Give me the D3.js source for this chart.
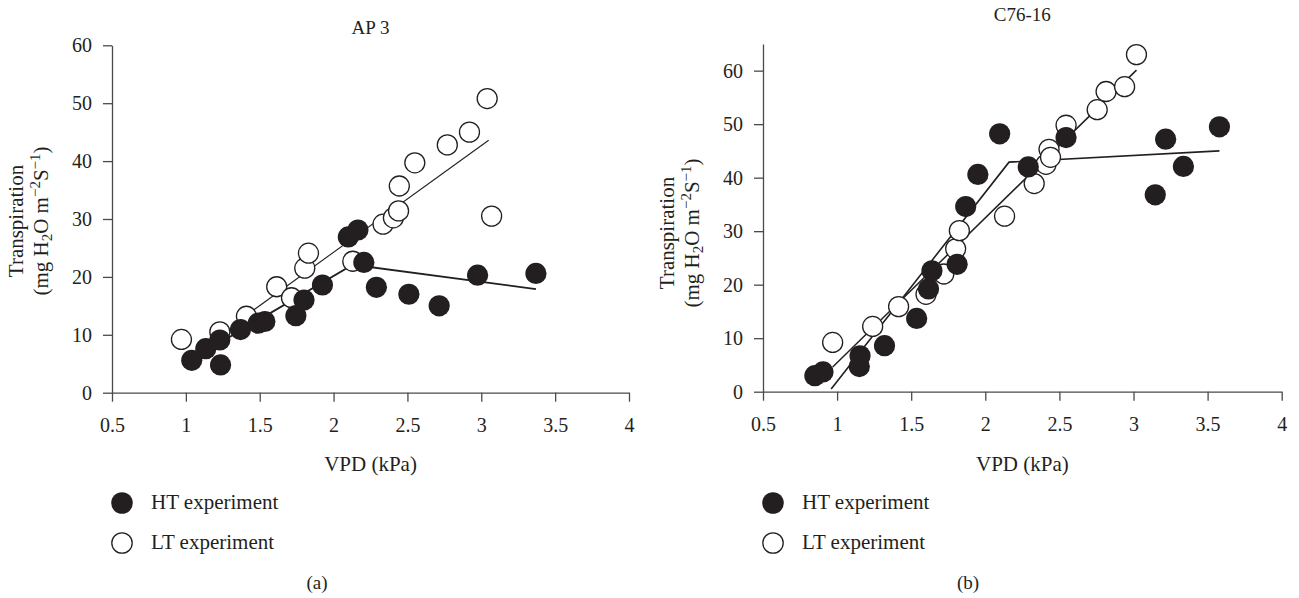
<!DOCTYPE html>
<html>
<head>
<meta charset="utf-8">
<script src="https://cdn.jsdelivr.net/npm/d3@7"></script>
<style>
  html, body { margin: 0; padding: 0; background: #fff; }
  svg { display: block; }
  svg text { font-family: "Liberation Serif", "Times New Roman", serif; }
</style>
</head>
<body>
<svg id="chart" width="1299" height="598"></svg>
<script>
// ── Data ─────────────────────────────────────────────────
// Panel (a) AP 3
var ap3HtVpd = [1.04, 1.135, 1.23, 1.235, 1.37, 1.49, 1.535, 1.745, 1.80, 1.925, 2.10, 2.165, 2.205, 2.29, 2.51, 2.715, 2.975, 3.37];
var ap3HtTr  = [5.6, 7.6, 9.1, 4.8, 10.9, 12.0, 12.3, 13.3, 16.0, 18.6, 26.9, 28.1, 22.5, 18.2, 17.0, 15.0, 20.3, 20.6];
var ap3LtVpd = [0.97, 1.23, 1.41, 1.615, 1.715, 1.805, 1.83, 2.13, 2.335, 2.405, 2.44, 2.445, 2.55, 2.77, 2.92, 3.04, 3.07];
var ap3LtTr  = [9.2, 10.5, 13.2, 18.3, 16.4, 21.5, 24.1, 22.7, 29.1, 30.2, 31.4, 35.7, 39.7, 42.8, 45.0, 50.8, 30.5];
var ap3HtFitVpd = [1.12, 2.13, 3.37];
var ap3HtFitTr  = [7.0, 22.1, 17.9];
var ap3LtFitVpd = [1.40, 3.05];
var ap3LtFitTr  = [13.2, 43.6];

// Panel (b) C76-16
var c76HtVpd = [0.85, 0.905, 1.15, 1.155, 1.32, 1.537, 1.617, 1.64, 1.81, 1.868, 1.95, 2.097, 2.29, 2.545, 3.147, 3.217, 3.337, 3.58];
var c76HtTr  = [3.0, 3.7, 4.7, 6.7, 8.6, 13.7, 19.2, 22.6, 23.8, 34.6, 40.6, 48.2, 42.0, 47.5, 36.8, 47.2, 42.1, 49.5];
var c76LtVpd = [0.97, 1.24, 1.415, 1.60, 1.72, 1.80, 1.825, 2.13, 2.33, 2.41, 2.43, 2.44, 2.545, 2.755, 2.815, 2.94, 3.02];
var c76LtTr  = [9.2, 12.2, 15.9, 18.2, 22.0, 26.7, 30.1, 32.8, 38.9, 42.5, 45.3, 43.8, 49.8, 52.7, 56.1, 57.0, 63.0];
var c76HtFitVpd = [0.96, 2.16, 3.58];
var c76HtFitTr  = [0.5, 42.9, 45.0];
var c76LtFitVpd = [0.97, 3.02];
var c76LtFitTr  = [4.6, 60.1];

var xTicks = [0.5, 1, 1.5, 2, 2.5, 3, 3.5, 4];
var yTicks = [0, 10, 20, 30, 40, 50, 60];
var legendLabels = ["HT experiment", "LT experiment"];

// ── Drawing ──────────────────────────────────────────────
var serif = "Liberation Serif, Times New Roman, serif";
var ink = "#231f20";
var axisInk = "#4a4a4a";
var svg = d3.select("#chart").attr("fill", ink);

function zip(xs, ys) {
  return xs.map(function (v, i) { return [v, ys[i]]; });
}

function drawPanel(p) {
  var g = svg.append("g");
  var x = d3.scaleLinear().domain([0.5, 4]).range([p.left, p.right]);
  var y = d3.scaleLinear().domain([0, p.yMax]).range([p.bottom, p.top]);

  // axes
  var xAxis = g.append("g")
    .attr("transform", "translate(0," + p.bottom + ")")
    .call(d3.axisBottom(x).tickValues(xTicks).tickFormat(d3.format(""))
      .tickSize(9).tickPadding(16).tickSizeOuter(0));
  var yAxis = g.append("g")
    .attr("transform", "translate(" + p.left + ",0)")
    .call(d3.axisLeft(y).tickValues(yTicks).tickFormat(d3.format(""))
      .tickSize(9).tickPadding(11).tickSizeOuter(0));
  [xAxis, yAxis].forEach(function (a) {
    a.attr("font-family", serif).attr("font-size", 20);
    a.selectAll("path, line").attr("stroke", axisInk).attr("stroke-width", 1.3);
    a.selectAll("text").attr("fill", ink);
  });

  // fitted lines
  var line = d3.line()
    .x(function (d) { return x(d[0]); })
    .y(function (d) { return y(d[1]); });
  g.append("path").datum(zip(p.ltFitX, p.ltFitY))
    .attr("d", line).attr("fill", "none").attr("stroke", ink).attr("stroke-width", p.ltW);
  g.append("path").datum(zip(p.htFitX, p.htFitY))
    .attr("d", line).attr("fill", "none").attr("stroke", ink).attr("stroke-width", p.htW);

  // points: open (LT) underneath, filled (HT) on top
  g.selectAll(".lt").data(zip(p.ltX, p.ltY)).join("circle")
    .attr("class", "lt")
    .attr("cx", function (d) { return x(d[0]); })
    .attr("cy", function (d) { return y(d[1]); })
    .attr("r", 10)
    .attr("fill", "#fff").attr("stroke", ink).attr("stroke-width", 1.3);
  g.selectAll(".ht").data(zip(p.htX, p.htY)).join("circle")
    .attr("class", "ht")
    .attr("cx", function (d) { return x(d[0]); })
    .attr("cy", function (d) { return y(d[1]); })
    .attr("r", 10.6)
    .attr("fill", ink);

  // titles and labels
  var cx = (p.left + p.right) / 2;
  g.append("text").attr("x", cx).attr("y", p.titleY)
    .attr("text-anchor", "middle").attr("font-size", 19).text(p.title);
  g.append("text").attr("x", cx).attr("y", 471)
    .attr("text-anchor", "middle").attr("font-size", 21).text("VPD (kPa)");

  var yl = g.append("g")
    .attr("transform", "translate(" + (p.left - 89) + "," + p.yLabelY + ") rotate(-90)")
    .attr("text-anchor", "middle").attr("font-size", 21);
  yl.append("text").attr("x", 0).attr("y", 0).text("Transpiration");
  var t2 = yl.append("text").attr("x", 0).attr("y", 25);
  t2.append("tspan").text("(mg H");
  t2.append("tspan").attr("dy", 4).attr("font-size", 15).text("2");
  t2.append("tspan").attr("dy", -4).text("O m");
  t2.append("tspan").attr("dy", -8).attr("font-size", 15).text("\u22122");
  t2.append("tspan").attr("dy", 8).text("S");
  t2.append("tspan").attr("dy", -8).attr("font-size", 15).text("\u22121");
  t2.append("tspan").attr("dy", 8).text(")");

  // legend
  var lx = p.left + 10;
  var lg = g.append("g").attr("font-size", 21);
  legendLabels.forEach(function (lab, i) {
    var cy = 503 + i * 40;
    lg.append("circle").attr("cx", lx).attr("cy", cy).attr("r", i === 0 ? 10.8 : 10.2)
      .attr("fill", i === 0 ? ink : "#fff")
      .attr("stroke", i === 0 ? "none" : ink).attr("stroke-width", 1.3);
    lg.append("text").attr("x", lx + 29).attr("y", cy + 6).text(lab);
  });

  g.append("text").attr("x", p.left + 205).attr("y", 589)
    .attr("text-anchor", "middle").attr("font-size", 19).text(p.tag);
}

drawPanel({
  left: 112, right: 629, top: 45.3, bottom: 392.7, yMax: 60,
  title: "AP 3", titleY: 34, yLabelY: 221, tag: "(a)",
  htX: ap3HtVpd, htY: ap3HtTr, ltX: ap3LtVpd, ltY: ap3LtTr,
  htFitX: ap3HtFitVpd, htFitY: ap3HtFitTr, ltFitX: ap3LtFitVpd, ltFitY: ap3LtFitTr,
  htW: 1.8, ltW: 1.1
});

drawPanel({
  left: 763, right: 1281.7, top: 43.9, bottom: 391.7, yMax: 65,
  title: "C76-16", titleY: 21, yLabelY: 233, tag: "(b)",
  htX: c76HtVpd, htY: c76HtTr, ltX: c76LtVpd, ltY: c76LtTr,
  htFitX: c76HtFitVpd, htFitY: c76HtFitTr, ltFitX: c76LtFitVpd, ltFitY: c76LtFitTr,
  htW: 1.6, ltW: 1.5
});
</script>
</body>
</html>
